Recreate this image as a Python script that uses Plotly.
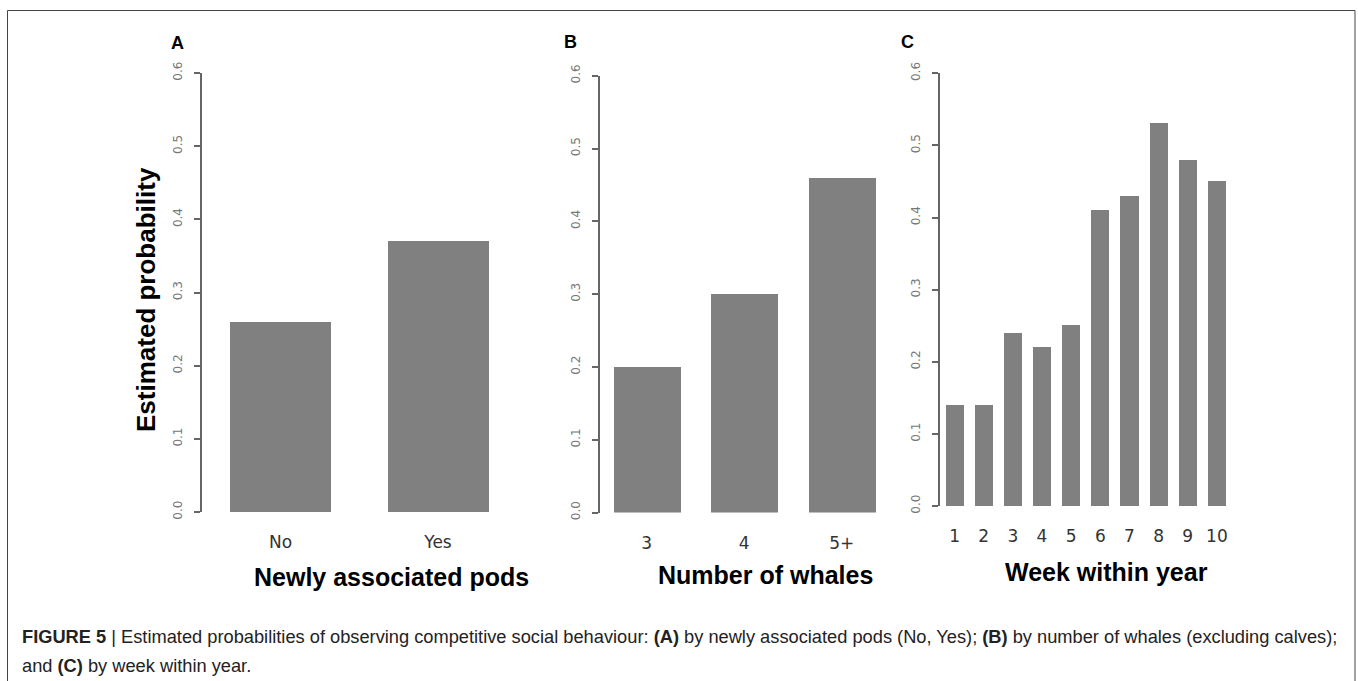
import plotly.graph_objects as go

W, H = 1358, 681

# ---- data ----
pods_cats = ["No", "Yes"]
pods_vals = [0.26, 0.37]

whale_cats = ["3", "4", "5+"]
whale_vals = [0.20, 0.30, 0.46]

week_cats = [1, 2, 3, 4, 5, 6, 7, 8, 9, 10]
week_vals = [0.14, 0.14, 0.24, 0.22, 0.25, 0.41, 0.43, 0.53, 0.48, 0.45]

y_ticks = [0.0, 0.1, 0.2, 0.3, 0.4, 0.5, 0.6]
y_ticktext = ["0.0", "0.1", "0.2", "0.3", "0.4", "0.5", "0.6"]

panel_letters = ["A", "B", "C"]
x_titles = ["Newly associated pods", "Number of whales", "Week within year"]
y_title = "Estimated probability"
caption1 = ("<b>FIGURE 5</b> | Estimated probabilities of observing competitive social behaviour: "
            "<b>(A)</b> by newly associated pods (No, Yes); <b>(B)</b> by number of whales (excluding calves);")
caption2 = "and <b>(C)</b> by week within year."

BAR = "#808080"


def fx(p):
    return p / W


def fy(p):
    return 1 - p / H


fig = go.Figure()
fig.add_trace(go.Bar(x=pods_cats, y=pods_vals, marker_color=BAR, width=0.64,
                     marker_line_width=0, xaxis="x", yaxis="y", showlegend=False))
fig.add_trace(go.Bar(x=whale_cats, y=whale_vals, marker_color=BAR, width=0.69,
                     marker_line_width=0, xaxis="x2", yaxis="y2", showlegend=False))
fig.add_trace(go.Bar(x=week_cats, y=week_vals, marker_color=BAR, width=0.62,
                     marker_line_width=0, xaxis="x3", yaxis="y3", showlegend=False))

yax = dict(range=[0, 0.6], tickvals=y_ticks, ticktext=y_ticktext, tickangle=-90,
           ticks="outside", ticklen=6, tickwidth=2, tickcolor="#666",
           showline=True, linecolor="#666", linewidth=2, showgrid=False, zeroline=False,
           tickfont=dict(family="DejaVu Sans", size=12, color="#777"),
           ticklabelstandoff=7, fixedrange=True, automargin=False)
xax = dict(showline=False, ticks="", showgrid=False, zeroline=False,
           tickfont=dict(family="DejaVu Sans", size=17, color="#333"),
           ticklabelstandoff=18, fixedrange=True, automargin=False)

fig.update_layout(
    template="none",
    width=W, height=H,
    margin=dict(l=0, r=0, t=0, b=0, pad=0),
    paper_bgcolor="white", plot_bgcolor="white",
    bargap=0,
    xaxis=dict(xax, type="category", domain=[fx(201.75), fx(516.75)], range=[-0.5, 1.5], anchor="y"),
    yaxis=dict(yax, domain=[fy(512), fy(73)], anchor="x"),
    xaxis2=dict(xax, type="category", domain=[fx(599.5), fx(890.5)], range=[-0.485, 2.5], anchor="y2"),
    yaxis2=dict(yax, domain=[fy(512.5), fy(75.7)], anchor="x2"),
    xaxis3=dict(xax, type="linear", domain=[fx(940), fx(1231.5)], range=[0.5, 10.5],
                tickvals=week_cats, ticktext=[str(v) for v in week_cats], anchor="y3"),
    yaxis3=dict(yax, domain=[fy(506), fy(73.3)], anchor="x3"),
)

ann = []
# panel letters
for letter, (px, py) in zip(panel_letters, [(177, 43), (570, 42), (908, 42)]):
    ann.append(dict(text=f"<b>{letter}</b>", x=fx(px), y=fy(py), xref="paper", yref="paper",
                    xanchor="center", yanchor="middle", showarrow=False,
                    font=dict(family="Liberation Sans", size=18, color="black")))
# x titles
for t, (px, py) in zip(x_titles, [(391.7, 576.7), (765, 575), (1106.7, 571.7)]):
    ann.append(dict(text=f"<b>{t}</b>", x=fx(px), y=fy(py), xref="paper", yref="paper",
                    xanchor="center", yanchor="middle", showarrow=False,
                    font=dict(family="Liberation Sans", size=25, color="black")))
# y title
ann.append(dict(text=f"<b>{y_title}</b>", x=fx(146), y=fy(300), xref="paper", yref="paper",
                xanchor="center", yanchor="middle", showarrow=False, textangle=-90,
                font=dict(family="Liberation Sans", size=26, color="black")))
# caption
ann.append(dict(text=caption1, x=fx(20), y=fy(636), xref="paper", yref="paper",
                xanchor="left", yanchor="middle", showarrow=False,
                font=dict(family="Liberation Sans", size=18.25, color="#222")))
ann.append(dict(text=caption2, x=fx(20), y=fy(665.5), xref="paper", yref="paper",
                xanchor="left", yanchor="middle", showarrow=False,
                font=dict(family="Liberation Sans", size=18.25, color="#222")))
fig.update_layout(annotations=ann)

# outer frame
fig.add_shape(type="rect", xref="paper", yref="paper",
              x0=fx(7.5), x1=fx(1355), y0=fy(690), y1=fy(10.5),
              line=dict(color="#444", width=1), fillcolor="rgba(0,0,0,0)")

fig.write_html("out.html")
